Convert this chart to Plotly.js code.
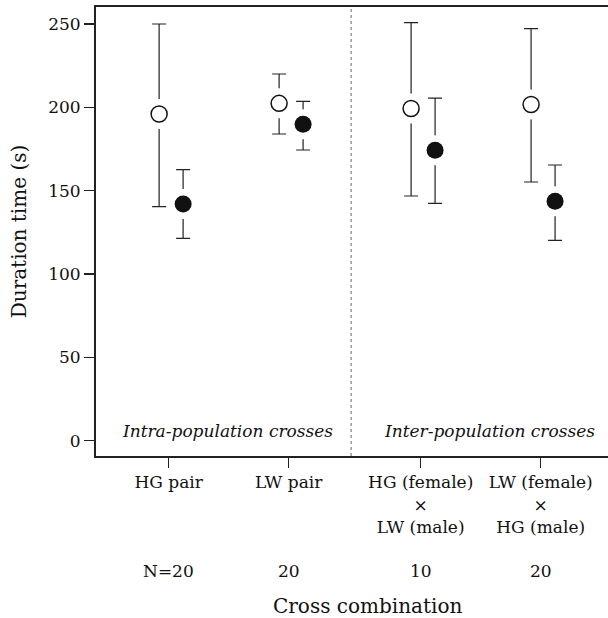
<!DOCTYPE html>
<html>
<head>
<meta charset="utf-8">
<script src="https://cdn.plot.ly/plotly-3.0.1.min.js"></script>
<style>html,body{margin:0;padding:0;background:#fff;}#chart{width:608px;height:618px;}</style>
</head>
<body>
<div id="chart"></div>
<script>
// ---- data ----
const categories = ['HG pair', 'LW pair', 'HG (female)<br>×<br>LW (male)', 'LW (female)<br>×<br>HG (male)'];
const categoryPos = [1, 2, 3.1, 4.1];
const sampleSizes = ['N=20', '20', '10', '20'];
const openMean  = [196.0, 202.4, 199.3, 201.7];
const openUpper = [250.0, 220.0, 250.8, 247.2];
const openLower = [140.4, 184.0, 146.8, 155.2];
const filledMean  = [142.0, 189.8, 174.3, 143.6];
const filledUpper = [162.6, 203.6, 205.5, 165.4];
const filledLower = [121.4, 174.4, 142.4, 120.2];
const groupLabels = ['Intra-population crosses', 'Inter-population crosses'];
const yTicks = [0, 50, 100, 150, 200, 250];

// ---- layout helpers ----
const openOff = -0.08, filledOff = 0.12;
const xo = categoryPos.map(v => v + openOff);
const xf = categoryPos.map(v => v + filledOff);
const font = 'DejaVu Serif';

function errTrace(x, mean, up, lo) {
  return {
    x: x, y: mean, type: 'scatter', mode: 'markers',
    marker: {size: 1, color: 'rgba(0,0,0,0)'},
    error_y: {type: 'data', symmetric: false,
      array: up.map((u, i) => u - mean[i]),
      arrayminus: lo.map((l, i) => mean[i] - l),
      color: '#222', thickness: 1.2, width: 7},
    hoverinfo: 'skip', showlegend: false
  };
}
function gapTrace(x, mean) {
  return {x: x, y: mean, type: 'scatter', mode: 'markers',
    marker: {size: 30, color: '#fff', line: {width: 0}}, hoverinfo: 'skip', showlegend: false};
}

const traces = [
  errTrace(xo, openMean, openUpper, openLower),
  errTrace(xf, filledMean, filledUpper, filledLower),
  gapTrace(xo, openMean),
  gapTrace(xf, filledMean),
  {x: xo, y: openMean, type: 'scatter', mode: 'markers', name: 'open',
   marker: {size: 16, color: '#fff', line: {color: '#111', width: 1.5}}, showlegend: false},
  {x: xf, y: filledMean, type: 'scatter', mode: 'markers', name: 'filled',
   marker: {size: 17, color: '#111', line: {width: 0}}, showlegend: false}
];

const annotations = [];
categoryPos.forEach((p, i) => annotations.push({
  x: p, xref: 'x', y: -0.256, yref: 'paper', text: sampleSizes[i], showarrow: false,
  xanchor: 'center', yanchor: 'middle', font: {family: font, size: 17, color: '#111'}
}));
annotations.push({x: 1.494, xref: 'x', y: 6, yref: 'y', text: '<i>' + groupLabels[0] + '</i>', showarrow: false,
  xanchor: 'center', yanchor: 'middle', font: {family: font, size: 17, color: '#111'}});
annotations.push({x: 3.67, xref: 'x', y: 6, yref: 'y', text: '<i>' + groupLabels[1] + '</i>', showarrow: false,
  xanchor: 'center', yanchor: 'middle', font: {family: font, size: 17, color: '#111'}});
annotations.push({x: 0.531, xref: 'paper', y: -0.334, yref: 'paper', text: 'Cross combination', showarrow: false,
  xanchor: 'center', yanchor: 'middle', font: {family: font, size: 20, color: '#111'}});

const layout = {
  width: 608, height: 618,
  margin: {l: 96, r: 0, t: 7, b: 162},
  paper_bgcolor: '#fff', plot_bgcolor: '#fff',
  showlegend: false,
  font: {family: font, size: 17, color: '#111'},
  xaxis: {
    range: [0.394, 4.661], tickvals: categoryPos, ticktext: categories,
    ticks: 'outside', ticklen: 10, tickwidth: 1.5, tickcolor: '#222',
    showline: true, linecolor: '#222', linewidth: 2, mirror: true,
    showgrid: false, zeroline: false, fixedrange: true,
    tickfont: {family: font, size: 17, color: '#111'}, automargin: false
  },
  yaxis: {
    range: [-9.2, 260.2], tickvals: yTicks,
    ticks: 'outside', ticklen: 10, tickwidth: 1.5, tickcolor: '#222',
    showline: true, linecolor: '#222', linewidth: 2,
    showgrid: false, zeroline: false, fixedrange: true,
    tickfont: {family: font, size: 17, color: '#111'}, automargin: false,
    title: {text: 'Duration time (s)', font: {family: font, size: 20, color: '#111'}, standoff: 16}
  },
  shapes: [{type: 'line', xref: 'x', yref: 'paper', x0: 2.52, x1: 2.52, y0: 0, y1: 1,
    line: {color: '#666', width: 1, dash: 'dot'}}],
  annotations: annotations
};

Plotly.newPlot('chart', traces, layout, {staticPlot: true, displayModeBar: false});
</script>
</body>
</html>
